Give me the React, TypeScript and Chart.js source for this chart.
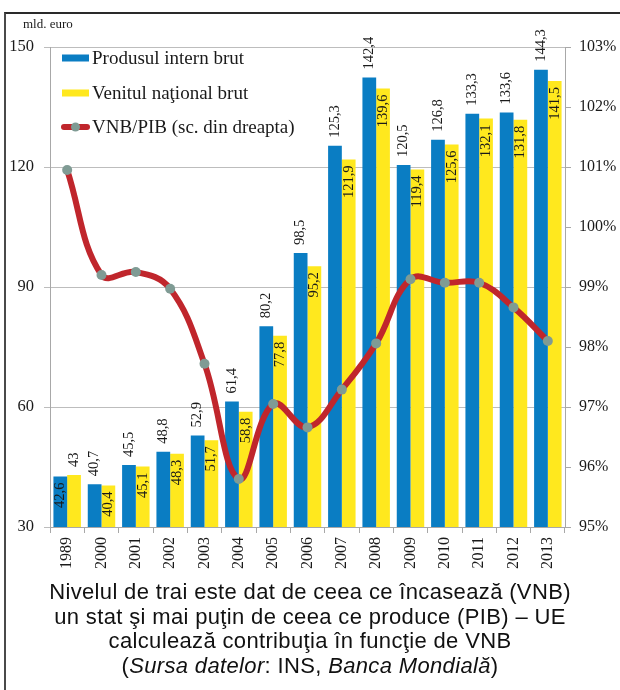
import React, { useEffect, useRef } from "react";
import { Chart, registerables } from "chart.js";

Chart.register(...registerables);

const years = ["1989", "2000", "2001", "2002", "2003", "2004", "2005", "2006", "2007", "2008", "2009", "2010", "2011", "2012", "2013"];
const pib = [42.6, 40.7, 45.5, 48.8, 52.9, 61.4, 80.2, 98.5, 125.3, 142.4, 120.5, 126.8, 133.3, 133.6, 144.3];
const vnb = [43, 40.4, 45.1, 48.3, 51.7, 58.8, 77.8, 95.2, 121.9, 139.6, 119.4, 125.6, 132.1, 131.8, 141.5];
const ratio = [100.95, 99.2, 99.25, 98.97, 97.72, 95.8, 97.05, 96.66, 97.29, 98.06, 99.13, 99.07, 99.07, 98.66, 98.1];
const leftTicks = [30, 60, 90, 120, 150];
const rightTicks = [95, 96, 97, 98, 99, 100, 101, 102, 103];
const legendLabels = ["Produsul intern brut", "Venitul naţional brut", "VNB/PIB (sc. din dreapta)"];

const BLUE = "#0A7DC3";
const YELLOW = "#FFE81E";
const RED = "#C0262C";
const GRAY_PT = "#7F9B94";
const SERIF = "'Liberation Serif', 'Times New Roman', serif";

const fmt = (v: number) => String(v).replace(".", ",");

const labelPlugin = {
  id: "barLabels",
  afterDatasetsDraw(chart: any) {
    const ctx = chart.ctx;
    ctx.save();
    ctx.font = `14.5px ${SERIF}`;
    ctx.fillStyle = "#1a1a1a";
    ctx.textBaseline = "middle";
    [0, 1].forEach((di) => {
      const meta = chart.getDatasetMeta(di);
      const data = chart.data.datasets[di].data as number[];
      meta.data.forEach((bar: any, i: number) => {
        const outside = di === 0 ? i !== 0 : i === 0;
        ctx.save();
        if (outside) {
          ctx.translate(bar.x, bar.y - 8);
          ctx.rotate(-Math.PI / 2);
          ctx.textAlign = "left";
        } else {
          ctx.translate(bar.x, bar.y + 6);
          ctx.rotate(-Math.PI / 2);
          ctx.textAlign = "right";
        }
        ctx.fillText(fmt(data[i]), 0, 0);
        ctx.restore();
      });
    });
    ctx.restore();
  },
};

const legendPlugin = {
  id: "customLegend",
  afterDraw(chart: any) {
    const ctx = chart.ctx;
    const area = chart.chartArea;
    const x0 = area.left + 12;
    const ys = [area.top + 11, area.top + 46, area.top + 80];
    ctx.save();
    ctx.font = `19px ${SERIF}`;
    ctx.textBaseline = "middle";
    ctx.textAlign = "left";
    ctx.fillStyle = BLUE;
    ctx.fillRect(x0, ys[0] - 3.5, 27, 7);
    ctx.fillStyle = YELLOW;
    ctx.fillRect(x0, ys[1] - 3.5, 27, 7);
    ctx.strokeStyle = RED;
    ctx.lineWidth = 6;
    ctx.lineCap = "round";
    ctx.beginPath();
    ctx.moveTo(x0 + 2, ys[2]);
    ctx.lineTo(x0 + 25, ys[2]);
    ctx.stroke();
    ctx.fillStyle = GRAY_PT;
    ctx.beginPath();
    ctx.arc(x0 + 13.5, ys[2], 4.5, 0, Math.PI * 2);
    ctx.fill();
    ctx.fillStyle = "#1a1a1a";
    legendLabels.forEach((t, i) => ctx.fillText(t, x0 + 30, ys[i] + 1));
    ctx.font = `13px ${SERIF}`;
    ctx.fillText("mld. euro", 23, 25);
    ctx.restore();
  },
};

export default function App() {
  const ref = useRef<HTMLCanvasElement | null>(null);
  useEffect(() => {
    if (!ref.current) return;
    const chart = new Chart(ref.current, {
      type: "bar",
      data: {
        labels: years,
        datasets: [
          { label: legendLabels[0], data: pib, backgroundColor: BLUE, yAxisID: "y", order: 2, categoryPercentage: 0.8, barPercentage: 1 } as any,
          { label: legendLabels[1], data: vnb, backgroundColor: YELLOW, yAxisID: "y", order: 2, categoryPercentage: 0.8, barPercentage: 1 } as any,
          {
            type: "line",
            label: legendLabels[2],
            data: ratio,
            yAxisID: "y1",
            borderColor: RED,
            borderWidth: 6,
            tension: 0.4,
            pointRadius: 5,
            pointBackgroundColor: GRAY_PT,
            pointBorderWidth: 0,
            order: 0,
          } as any,
        ],
      },
      options: {
        animation: false,
        responsive: false,
        maintainAspectRatio: false,
        layout: { padding: { top: 47, left: 0, right: 0, bottom: 0 } },
        plugins: { legend: { display: false }, tooltip: { enabled: false } },
        scales: {
          x: {
            offset: true,
            grid: { display: true, drawOnChartArea: false, offset: true, tickLength: 6, color: "#A8A8A8" },
            border: { color: "#A8A8A8" },
            ticks: {
              font: { family: SERIF, size: 16 },
              color: "#1a1a1a",
              minRotation: 90,
              maxRotation: 90,
              padding: 4,
              autoSkip: false,
            },
            afterFit: (s: any) => { s.height = 53; },
          },
          y: {
            position: "left",
            min: 30,
            max: 150,
            afterBuildTicks: (s: any) => { s.ticks = leftTicks.map((v) => ({ value: v })); },
            grid: { color: "#BDBDBD", tickLength: 6, lineWidth: 1 },
            border: { color: "#A8A8A8" },
            ticks: { font: { family: SERIF, size: 16.5 }, color: "#1a1a1a", padding: 10 },
            afterFit: (s: any) => { s.width = 50; },
          },
          y1: {
            position: "right",
            min: 95,
            max: 103,
            afterBuildTicks: (s: any) => { s.ticks = rightTicks.map((v) => ({ value: v })); },
            grid: { drawOnChartArea: false, tickLength: 6, color: "#A8A8A8" },
            border: { color: "#A8A8A8" },
            ticks: { font: { family: SERIF, size: 16 }, color: "#1a1a1a", padding: 8, callback: (v: any) => `${v}%` },
            afterFit: (s: any) => { s.width = 55; },
          },
        },
      },
      plugins: [labelPlugin, legendPlugin],
    });
    return () => chart.destroy();
  }, []);

  return (
    <div style={{ position: "absolute", left: 0, top: 0, width: 620, height: 690, overflow: "hidden", background: "#fff" }}>
      <div
        style={{
          position: "absolute",
          left: 4,
          top: 12,
          width: 640,
          height: 700,
          borderTop: "2px solid #2a2a2a",
          borderLeft: "2px solid #4a4a4a",
        }}
      />
      <canvas ref={ref} width={620} height={580} style={{ position: "absolute", left: 0, top: 0, width: 620, height: 580 }} />
      <div
        style={{
          position: "absolute",
          left: 0,
          top: 580,
          width: 620,
          textAlign: "center",
          fontFamily: "'Liberation Sans', Arial, sans-serif",
          fontSize: 22,
          letterSpacing: "0.35px",
          lineHeight: "24.5px",
          color: "#111",
        }}
      >
        Nivelul de trai este dat de ceea ce încasează (VNB)
        <br />
        un stat şi mai puţin de ceea ce produce (PIB) – UE
        <br />
        calculează contribuţia în funcţie de VNB
        <br />(<i>Sursa datelor</i>: INS, <i>Banca Mondială</i>)
      </div>
    </div>
  );
}
